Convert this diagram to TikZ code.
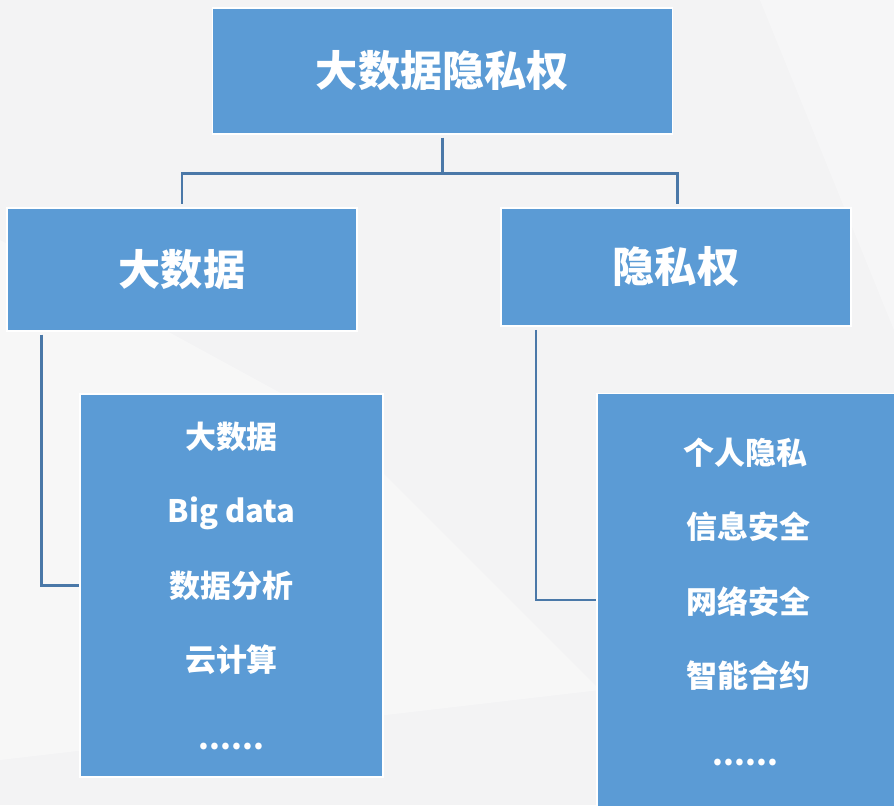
\documentclass[tikz,border=0pt]{standalone}
\usepackage{fontspec}
\newfontfamily\cjk{Noto Sans CJK SC}
\usetikzlibrary{positioning}
\definecolor{boxblue}{HTML}{5B9BD5}
\definecolor{linkblue}{HTML}{4A78A8}
\definecolor{bggray}{HTML}{F3F3F4}
\tikzset{
  box/.style={draw=white, line width=1.3pt, fill=boxblue, text=white,
    font=\cjk\bfseries, align=center, inner sep=0pt},
  conn/.style={linkblue, line width=1.8pt},
}
\begin{document}
\begin{tikzpicture}[x=0.025cm, y=-0.025cm]
  % background
  \fill[bggray] (0,0) rectangle (894,805);
  \fill[white, opacity=0.35] (0,240) -- (330,420) -- (600,690) -- (0,760) -- cycle;
  \fill[white, opacity=0.3] (760,0) -- (894,0) -- (894,330) -- cycle;
  \useasboundingbox (0,0) rectangle (894,805);
  % boxes
  \node[box, minimum width=11.5cm, minimum height=3.15cm, font=\cjk\bfseries\fontsize{30}{36}\selectfont]
    (title) at (442.5,71) {大数据隐私权};
  \node[box, minimum width=8.75cm, minimum height=3.07cm, font=\cjk\bfseries\fontsize{30}{36}\selectfont]
    (bigdata) at (182,269.5) {大数据};
  \node[box, minimum width=8.75cm, minimum height=2.95cm, font=\cjk\bfseries\fontsize{30}{36}\selectfont]
    (privacy) at (676,267) {隐私权};
  \node[box, minimum width=7.57cm, minimum height=9.57cm, font=\cjk\bfseries\fontsize{22}{53}\selectfont]
    (bdlist) at (231.5,585.5) {大数据\\Big data\\数据分析\\云计算\\[2pt]......};
  \node[box, minimum width=7.57cm, minimum height=10.4cm, font=\cjk\bfseries\fontsize{22}{53}\selectfont]
    (pvlist) at (748.5,601.5) {个人隐私\hspace*{0.16cm}\\信息安全\hspace*{0.16cm}\\网络安全\hspace*{0.16cm}\\智能合约\hspace*{0.16cm}\\[2pt]......\hspace*{0.16cm}};
  % connectors
  \draw[conn] ([yshift=-2pt]title.south) -- ++(0,36) coordinate (fork);
  \draw[conn] (fork) -| ([yshift=2pt]bigdata.north);
  \draw[conn] (fork) -| ([xshift=1pt,yshift=2pt]privacy.north);
  \draw[conn] ([xshift=0.88cm,yshift=-2pt]bigdata.south west) |- (bdlist.west);
  \draw[conn] ([xshift=0.9cm,yshift=-2pt]privacy.south west) |- ([yshift=0.04cm]pvlist.west);
\end{tikzpicture}
\end{document}
